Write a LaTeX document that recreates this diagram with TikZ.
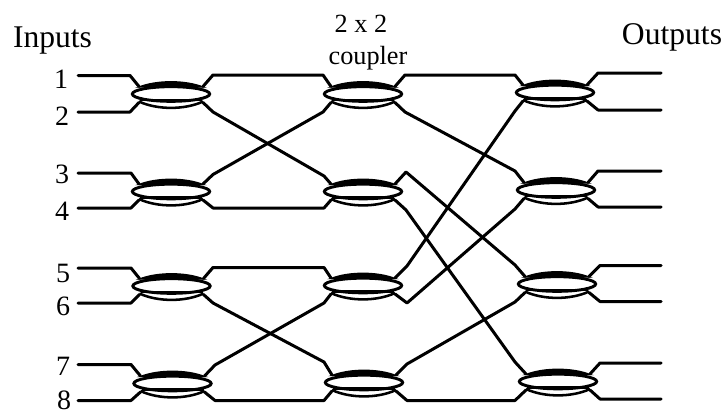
\documentclass[tikz,border=0pt]{standalone}
\usepackage{fontspec}
\setmainfont{Liberation Serif}
\usetikzlibrary{shapes.geometric}
\tikzset{
  x=0.75pt,y=-0.75pt,
  fibre/.style={line width=2.25pt,line join=round,line cap=round},
  coupler/.style={ellipse,draw,fill=white,line width=2.2pt,minimum width=58pt,minimum height=11pt,inner sep=0pt},
  lens/.style={draw,fill=black,line width=1pt},
  head/.style={font=\fontsize{23.7}{26}\selectfont,inner sep=0pt,anchor=base},
  small/.style={font=\fontsize{19.7}{22}\selectfont,inner sep=0pt,anchor=base},
  num/.style={font=\fontsize{21}{24}\selectfont,inner sep=0pt,anchor=base}
}
\begin{document}
\begin{tikzpicture}
\useasboundingbox (0,0) rectangle (724,414);
% name / centre / kink x left, right / kink y: left top, left bottom, right top, right bottom
\foreach \n/\cx/\cy/\lx/\rx/\lt/\lb/\rt/\rb in {
  a1/171/94.5/130/213/75.5/112/75/112,
  a2/171/192/131/213/173/208/174.5/208,
  a3/171.5/286.5/131/213/268/303/267.5/303,
  a4/172.5/384/131/215/364.5/400.5/365/400.5,
  b1/363/94.5/323/405/75/112/75/112,
  b2/363/192/324/406/176/208/172/210,
  b3/363/286/324/407/267.5/303/266/303,
  b4/364/383/324/407/362/400.5/364/400.5,
  c1/555/93/515/598/75/111/73/110,
  c2/556/190.5/515/598/171/209/171/207,
  c3/557/284.5/515/600/265/302/265.5/301.5,
  c4/558/382/515/600/362/400.5/363/399}{
  \begin{scope}[shift={(\cx,\cy)}]
    \path[lens] (-32,-7.5) .. controls (-14,-14.5) and (14,-14.5) .. (32,-7.5) -- cycle;
    \draw[line width=1.9pt] (-32,7) .. controls (-14,15.5) and (14,15.5) .. (32,7);
    \node[coupler] (\n) at (0,-0.5) {};
    \draw[line width=1.9pt] (-31,5.5) -- (31,5.5);
    \coordinate (\n ul) at (-32,-8);
    \coordinate (\n ll) at (-32,8);
    \coordinate (\n ur) at (32,-8);
    \coordinate (\n lr) at (32,8);
  \end{scope}
  \coordinate (\n uL) at (\lx,\lt);
  \coordinate (\n lL) at (\lx,\lb);
  \coordinate (\n uR) at (\rx,\rt);
  \coordinate (\n lR) at (\rx,\rb);
}
% free ends
\foreach \n/\y in {i1/75.5,i2/112,i3/173,i4/208,i5/268,i6/303,i7/364.5,i8/400.5}{\coordinate (\n) at (78,\y);}
\foreach \n/\y in {o1/73,o2/110,o3/171,o4/207,o5/265.5,o6/301.5,o7/363,o8/399}{\coordinate (\n) at (661,\y);}
% inputs
\draw[fibre] (i1) -- (a1uL) -- (a1ul);
\draw[fibre] (i2) -- (a1lL) -- (a1ll);
\draw[fibre] (i3) -- (a2uL) -- (a2ul);
\draw[fibre] (i4) -- (a2lL) -- (a2ll);
\draw[fibre] (i5) -- (a3uL) -- (a3ul);
\draw[fibre] (i6) -- (a3lL) -- (a3ll);
\draw[fibre] (i7) -- (a4uL) -- (a4ul);
\draw[fibre] (i8) -- (a4lL) -- (a4ll);
% first stage
\draw[fibre] (a1ur) -- (a1uR) -- (b1uL) -- (b1ul);
\draw[fibre] (a1lr) -- (a1lR) -- (b2uL) -- (b2ul);
\draw[fibre] (a2ur) -- (a2uR) -- (b1lL) -- (b1ll);
\draw[fibre] (a2lr) -- (a2lR) -- (b2lL) -- (b2ll);
\draw[fibre] (a3ur) -- (a3uR) -- (b3uL) -- (b3ul);
\draw[fibre] (a3lr) -- (a3lR) -- (b4uL) -- (b4ul);
\draw[fibre] (a4ur) -- (a4uR) -- (b3lL) -- (b3ll);
\draw[fibre] (a4lr) -- (a4lR) -- (b4lL) -- (b4ll);
% second stage
\draw[fibre] (b1ur) -- (b1uR) -- (c1uL) -- (c1ul);
\draw[fibre] (b1lr) -- (b1lR) -- (c2uL) -- (c2ul);
\draw[fibre] (b2ur) -- (b2uR) -- (c3uL) -- (c3ul);
\draw[fibre] (b2lr) -- (b2lR) -- (c4uL) -- (c4ul);
\draw[fibre] (b3ur) -- (b3uR) -- (c1lL) -- (c1ll);
\draw[fibre] (b3lr) -- (b3lR) -- (c2lL) -- (c2ll);
\draw[fibre] (b4ur) -- (b4uR) -- (c3lL) -- (c3ll);
\draw[fibre] (b4lr) -- (b4lR) -- (c4lL) -- (c4ll);
% outputs
\draw[fibre] (c1ur) -- (c1uR) -- (o1);
\draw[fibre] (c1lr) -- (c1lR) -- (o2);
\draw[fibre] (c2ur) -- (c2uR) -- (o3);
\draw[fibre] (c2lr) -- (c2lR) -- (o4);
\draw[fibre] (c3ur) -- (c3uR) -- (o5);
\draw[fibre] (c3lr) -- (c3lR) -- (o6);
\draw[fibre] (c4ur) -- (c4uR) -- (o7);
\draw[fibre] (c4lr) -- (c4lR) -- (o8);
% labels
\node[head] (tin) at (52.5,47) {Inputs};
\node[head] (tout) at (672,44) {Outputs};
\node[small] (t22) at (361,32) {2 x 2};
\node[small] (tcp) at (368,64) {coupler};
\foreach \n/\t/\x/\y in {l1/1/61/88,l2/2/62/125,l3/3/62/183,l4/4/62/220,l5/5/63/282,l6/6/63/315,l7/7/63/375,l8/8/64/409.5}{
  \node[num] (\n) at (\x,\y) {\t};
}
\end{tikzpicture}
\end{document}
